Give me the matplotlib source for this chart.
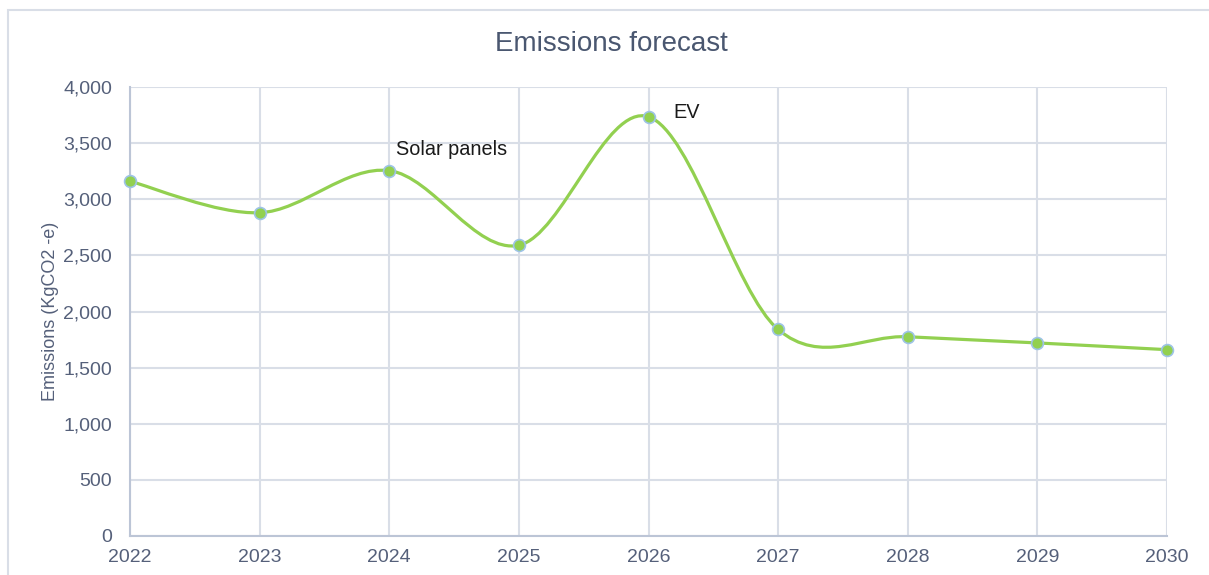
import numpy as np
import matplotlib.pyplot as plt
from matplotlib.path import Path
from matplotlib.patches import PathPatch, Rectangle

plt.rcParams['font.family'] = ['Liberation Sans', 'DejaVu Sans']

# data
years = [2022, 2023, 2024, 2025, 2026, 2027, 2028, 2029, 2030]
emissions = [3160, 2880, 3255, 2590, 3735, 1840, 1775, 1720, 1660]
notes = {2024: ("Solar panels", (4.5, 11)), 2026: ("EV", (18, -1))}
y_ticks = [0, 500, 1000, 1500, 2000, 2500, 3000, 3500, 4000]

line_col = "#92D050"
edge_col = "#9DC3E6"
grid_col = "#D9DEE7"
text_col = "#55607A"

fig = plt.figure(figsize=(12.09, 5.75), dpi=100)
ax = fig.add_axes([130 / 1209, 1 - 536 / 575, (1167 - 130) / 1209, (536 - 87) / 575])

# outer chart border (clipped by the image edge, like the screenshot)
fig.add_artist(Rectangle((8 / 1209, -0.1), 1.2, 1.1 - 10 / 575,
                         transform=fig.transFigure, fill=False,
                         edgecolor=grid_col, linewidth=1.5))

# smoothed line, Excel-style (Catmull-Rom as cubic bezier)
x = np.array(years, dtype=float)
y = np.array(emissions, dtype=float)
pts = np.column_stack([x, y])
verts = [tuple(pts[0])]
codes = [Path.MOVETO]
n = len(pts)
for i in range(n - 1):
    p0 = pts[max(i - 1, 0)]
    p1 = pts[i]
    p2 = pts[i + 1]
    p3 = pts[min(i + 2, n - 1)]
    c1 = p1 + (p2 - p0) / 6
    c2 = p2 - (p3 - p1) / 6
    verts += [tuple(c1), tuple(c2), tuple(p2)]
    codes += [Path.CURVE4] * 3
ax.add_patch(PathPatch(Path(verts, codes), fill=False, edgecolor=line_col,
                       linewidth=2.3, zorder=3, capstyle='round'))
ax.plot(years, emissions, linestyle='none', marker='o', markersize=8.5,
        markerfacecolor=line_col, markeredgecolor=edge_col,
        markeredgewidth=1.2, zorder=4, clip_on=False)

for yr, (label, off) in notes.items():
    ax.annotate(label, xy=(yr, emissions[years.index(yr)]), xytext=off,
                textcoords='offset points', ha='left', va='baseline',
                fontsize=14.3, color="#1a1a1a")

ax.set_xlim(2022, 2030)
ax.set_ylim(0, 4000)
ax.set_xticks(years)
ax.set_yticks(y_ticks)
ax.set_yticklabels([f"{v:,}" for v in y_ticks])
ax.grid(True, color=grid_col, linewidth=1.5)
ax.set_axisbelow(True)
for s in ['top', 'right']:
    ax.spines[s].set_visible(False)
for s in ['left', 'bottom']:
    ax.spines[s].set_color("#BCC5D6")
    ax.spines[s].set_linewidth(1.5)
ax.tick_params(length=0, labelsize=14, labelcolor=text_col)
ax.tick_params(axis='y', pad=13)
ax.tick_params(axis='x', pad=9)

ax.set_ylabel("Emissions (KgCO2 -e)", fontsize=13, color=text_col, labelpad=3)
fig.text(611 / 1209, 1 - 44 / 575, "Emissions forecast", ha='center', va='center',
         fontsize=20, color="#4A5770")

fig.savefig("out.png", dpi=100)
